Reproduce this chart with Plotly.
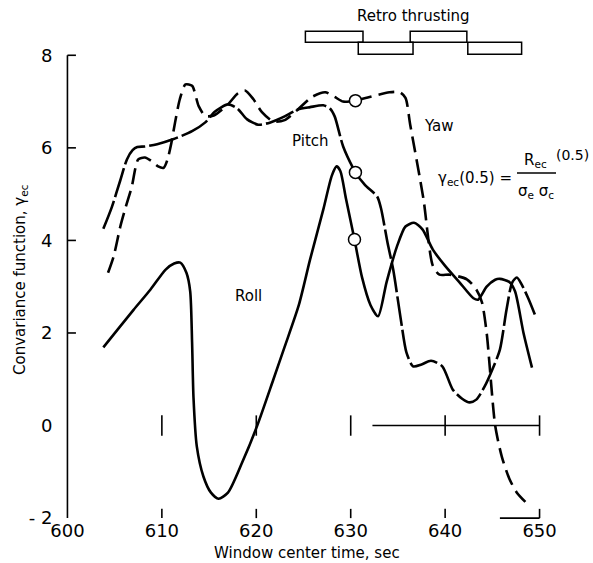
import plotly.graph_objects as go

# ---- covariance function vs. window centre time ----
roll_t = [603.8, 605.5, 607.0, 608.8, 610.4, 611.3, 611.95, 612.6, 613.0, 613.2, 613.35, 613.7,
          614.4, 615.2, 616.0, 617.0, 618.5, 620.1, 621.8, 623.0, 624.5, 625.7, 627.1, 628.0,
          628.5, 628.9, 629.5, 630.4, 631.2, 632.1, 632.9, 633.8, 634.9, 635.8, 636.7, 637.6,
          638.7, 640.0, 641.5, 643.0, 643.5, 644.4, 645.3, 645.8, 646.8, 647.4, 648.3, 649.2]
roll_v = [1.69, 2.12, 2.5, 2.94, 3.37, 3.5, 3.52, 3.3, 2.9, 1.8, 0.6, -0.45,
          -1.1, -1.45, -1.58, -1.45, -0.8, 0.0, 0.99, 1.7, 2.6, 3.59, 4.67, 5.4,
          5.6, 5.5, 4.9, 4.02, 3.2, 2.6, 2.36, 3.1, 3.87, 4.3, 4.38, 4.24,
          3.8, 3.45, 3.1, 2.75, 2.72, 3.0, 3.15, 3.17, 3.1, 2.9, 2.0, 1.25]

pitch_t = [603.8, 604.7, 605.6, 606.3, 606.9, 607.4, 608.2, 609.5, 611.1, 613.2, 614.6, 615.6,
           617.0, 618.0, 619.0, 620.2, 621.5, 623.0, 624.4, 625.7, 627.1, 627.8, 628.3, 629.2,
           630.5, 631.5, 632.8, 633.2, 633.9, 634.5, 635.3, 635.9, 636.6, 637.5, 638.5, 639.7,
           640.8, 641.8, 642.6, 643.3, 644.2, 645.0, 645.8, 646.5, 647.1, 647.6, 648.1, 648.8, 649.5]
pitch_v = [4.25, 4.72, 5.3, 5.75, 5.95, 6.02, 6.03, 6.08, 6.18, 6.36, 6.55, 6.78,
           6.94, 6.85, 6.62, 6.5, 6.55, 6.68, 6.83, 6.88, 6.92, 6.85, 6.68, 6.03,
           5.47, 5.2, 4.95, 4.7, 3.95, 3.37, 2.3, 1.58, 1.28, 1.32, 1.4, 1.28,
           0.78, 0.58, 0.5, 0.56, 0.85, 1.21, 1.64, 2.5, 3.09, 3.2, 3.05, 2.75, 2.4]

yaw_t = [604.3, 604.9, 605.6, 606.1, 606.8, 607.5, 608.2, 609.0, 609.6, 610.2, 610.6, 611.0,
         611.4, 611.9, 612.5, 613.2, 613.9, 614.6, 615.5, 617.0, 618.0, 618.8, 619.7, 620.6,
         621.8, 623.0, 624.4, 625.9, 627.3, 628.3, 629.2, 630.5, 632.0, 634.1, 635.2, 635.8,
         636.3, 637.7, 638.7, 639.4, 640.5, 642.3, 643.3, 643.9, 644.4, 645.3, 646.0, 646.8,
         647.6, 648.5]
yaw_v = [3.3, 3.66, 4.3, 4.67, 5.15, 5.75, 5.79, 5.7, 5.6, 5.57, 5.75, 6.1,
         6.55, 7.05, 7.37, 7.34, 6.9, 6.69, 6.7, 6.94, 7.17, 7.24, 7.05, 6.77,
         6.57, 6.6, 6.83, 7.1, 7.2, 7.1, 7.0, 7.02, 7.1, 7.2, 7.2, 7.08,
         6.5, 4.9, 3.45, 3.26, 3.26, 3.16, 2.94, 2.66, 2.0, 0.0, -0.67, -1.15,
         -1.45, -1.65]

# open circles at the 0.5-lag evaluation time
circle_t = [630.5, 630.5, 630.4]
circle_v = [7.02, 5.47, 4.02]

# retro-rocket firing intervals (s), two staggered rows
retro_upper = [(625.2, 631.3), (636.3, 642.3)]
retro_lower = [(630.8, 636.6), (642.4, 648.1)]

# axes
x_ticks = [600, 610, 620, 630, 640, 650]
x_ticktext = ["600", "610", "620", "630", "640", "650"]
y_ticks = [-2, 0, 2, 4, 6, 8]
y_ticktext = ["- 2", "0", "2", "4", "6", "8"]
y_marked = [2, 4, 6, 8]
ref_ticks = [610, 620, 630, 640, 650]
ref_line_start = 632.3

X_RANGE = [599, 651]
Y_RANGE = [-2.3, 9.0]
W, H = 593, 563
ML, MR, MT, MB = 58, 44, 9, 31
FONT = "DejaVu Sans"


def paper_x(px):
    return (px - ML) / (W - ML - MR)


def paper_y(py):
    return (H - MB - py) / (H - MT - MB)


def add_seg(xs, ys, x0, y0, x1, y1):
    xs.extend([x0, x1, None])
    ys.extend([y0, y1, None])


# hand-drawn style frame: left axis, tick marks and the time reference line at zero
fx, fy = [], []
add_seg(fx, fy, x_ticks[0], y_ticks[0], x_ticks[0], y_ticks[-1])
for v in y_marked:
    add_seg(fx, fy, x_ticks[0], v, x_ticks[0] + 0.9, v)
for t in x_ticks[1:]:
    add_seg(fx, fy, t, y_ticks[0], t, y_ticks[0] + 0.2)
add_seg(fx, fy, 645.8, y_ticks[0], x_ticks[-1], y_ticks[0])
add_seg(fx, fy, ref_line_start, 0, ref_ticks[-1], 0)
for t in ref_ticks:
    add_seg(fx, fy, t, -0.22, t, 0.22)

fig = go.Figure()
fig.add_trace(go.Scatter(x=fx, y=fy, mode="lines", line=dict(color="black", width=1.6),
                         hoverinfo="skip", showlegend=False))

fig.add_trace(go.Scatter(x=roll_t, y=roll_v, mode="lines", name="Roll",
                         line=dict(color="black", width=2.6, shape="spline", smoothing=0.7)))
fig.add_trace(go.Scatter(x=pitch_t, y=pitch_v, mode="lines", name="Pitch",
                         line=dict(color="black", width=2.6, shape="spline", smoothing=0.7,
                                   dash="30px,4px")))
fig.add_trace(go.Scatter(x=yaw_t, y=yaw_v, mode="lines", name="Yaw",
                         line=dict(color="black", width=2.6, shape="spline", smoothing=0.7,
                                   dash="16px,7px")))
fig.add_trace(go.Scatter(x=circle_t, y=circle_v, mode="markers", cliponaxis=False,
                         marker=dict(size=12, color="white",
                                     line=dict(color="black", width=1.5)),
                         showlegend=False))

shapes = []
for (a, b) in retro_upper:
    shapes.append(dict(type="rect", xref="x", yref="y", x0=a, x1=b, y0=8.28, y1=8.52,
                       line=dict(color="black", width=1.5)))
for (a, b) in retro_lower:
    shapes.append(dict(type="rect", xref="x", yref="y", x0=a, x1=b, y0=8.02, y1=8.28,
                       line=dict(color="black", width=1.5)))
# fraction bar of the definition
shapes.append(dict(type="line", xref="paper", yref="paper",
                   x0=paper_x(517), x1=paper_x(556), y0=paper_y(173), y1=paper_y(173),
                   line=dict(color="black", width=1.3)))

txt = dict(family=FONT, size=15, color="black")
big = dict(family=FONT, size=15, color="black")
small = dict(family=FONT, size=14, color="black")


def note(text, px, py, xanchor="center", font=txt, angle=0):
    return dict(text=text, xref="paper", yref="paper", x=paper_x(px), y=paper_y(py),
                xanchor=xanchor, yanchor="middle", showarrow=False, font=font,
                textangle=angle)


annotations = [
    note("Retro thrusting", 413, 16),
    note("Pitch", 310, 141),
    note("Yaw", 439, 126),
    note("Roll", 248, 296),
    note("γ<sub>ec</sub>(0.5) =", 514, 178, xanchor="right", font=big),
    note("R<sub>ec</sub>", 535, 161, font=big),
    note("(0.5)", 554, 155, xanchor="left", font=small),
    note("σ<sub>e</sub> σ<sub>c</sub>", 536, 191, font=big),
    note("Window center time, sec", 307, 553, font=txt),
    note("Convariance function, γ<sub>ec</sub>", 20, 280, font=txt, angle=-90),
]

fig.update_layout(
    width=W, height=H,
    margin=dict(l=ML, r=MR, t=MT, b=MB, pad=0),
    paper_bgcolor="white", plot_bgcolor="white",
    showlegend=False,
    shapes=shapes,
    annotations=annotations,
    xaxis=dict(range=X_RANGE, showgrid=False, zeroline=False, showline=False,
               tickvals=x_ticks, ticktext=x_ticktext, ticks="",
               anchor="free", position=(y_ticks[0] - Y_RANGE[0]) / (Y_RANGE[1] - Y_RANGE[0]),
               tickfont=dict(family=FONT, size=18, color="black")),
    yaxis=dict(range=Y_RANGE, showgrid=False, zeroline=False, showline=False,
               tickvals=y_ticks, ticktext=y_ticktext, ticks="",
               anchor="free", position=(x_ticks[0] - X_RANGE[0]) / (X_RANGE[1] - X_RANGE[0]),
               ticklabelstandoff=15,
               tickfont=dict(family=FONT, size=18, color="black")),
)

fig.write_html("out.html")
